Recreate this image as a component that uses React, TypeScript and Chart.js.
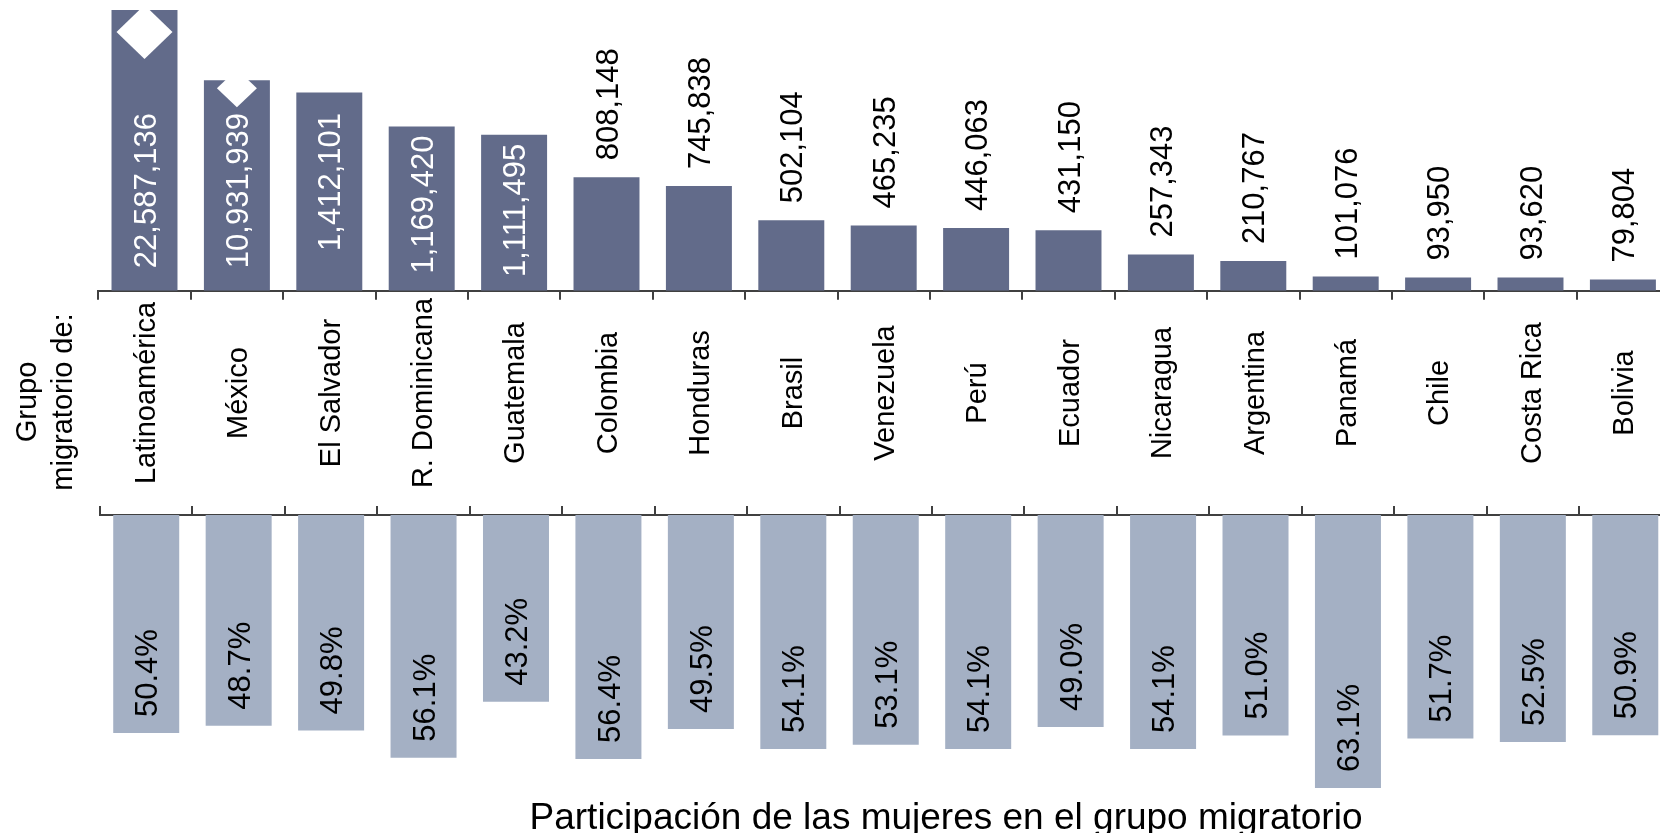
import React, { useEffect, useRef } from "react";
import { Chart, registerables } from "chart.js";

Chart.register(...registerables);

const categories = [
  "Latinoamérica", "México", "El Salvador", "R. Dominicana", "Guatemala", "Colombia",
  "Honduras", "Brasil", "Venezuela", "Perú", "Ecuador", "Nicaragua", "Argentina",
  "Panamá", "Chile", "Costa Rica", "Bolivia",
];
const migrants = [
  22587136, 10931939, 1412101, 1169420, 1111495, 808148, 745838, 502104, 465235,
  446063, 431150, 257343, 210767, 101076, 93950, 93620, 79804,
];
const womenShare = [
  50.4, 48.7, 49.8, 56.1, 43.2, 56.4, 49.5, 54.1, 53.1, 54.1, 49.0, 54.1, 51.0,
  63.1, 51.7, 52.5, 50.9,
];
// value at which a bar is cut by the axis break (null = no break)
const axisBreaks: (number | null)[] = [
  2000000, 1500000, null, null, null, null, null, null, null, null, null, null, null,
  null, null, null, null,
];
const topAxisMax = 2000000;
const bottomAxisMax = 70;
const sideLabel = ["Grupo", "migratorio de:"];
const bottomTitle = "Participación de las mujeres en el grupo migratorio";

const FONT = "'Liberation Sans', Arial, sans-serif";
const DARK = "#626b8a";
const LIGHT = "#a4b0c4";
const AXIS = "#404040";

const CW = 1680;
const CH = 833;

function rotText(ctx: CanvasRenderingContext2D, text: string, x: number, y: number, align: CanvasTextAlign, fs: number) {
  ctx.save();
  ctx.translate(x + 0.358 * fs, y);
  ctx.rotate(-Math.PI / 2);
  ctx.textAlign = align;
  ctx.textBaseline = "alphabetic";
  ctx.fillText(text, 0, 0);
  ctx.restore();
}

const breakMarkers = [
  { dy: 22, hw: 28, hh: 27 },
  { dy: 8, hw: 20, hh: 19 },
];

const topPlugin = {
  id: "topLabels",
  afterDatasetsDraw(chart: any) {
    const ctx: CanvasRenderingContext2D = chart.ctx;
    const meta = chart.getDatasetMeta(0);
    const area = chart.chartArea;
    // break markers
    let k = 0;
    meta.data.forEach((bar: any, i: number) => {
      if (axisBreaks[i] == null) return;
      const m = breakMarkers[k++] || breakMarkers[breakMarkers.length - 1];
      const cy = bar.y + m.dy;
      ctx.save();
      ctx.fillStyle = "#ffffff";
      ctx.beginPath();
      ctx.moveTo(bar.x, cy - m.hh);
      ctx.lineTo(bar.x + m.hw, cy);
      ctx.lineTo(bar.x, cy + m.hh);
      ctx.lineTo(bar.x - m.hw, cy);
      ctx.closePath();
      ctx.fill();
      ctx.restore();
    });
    // value labels
    const fs = 31;
    ctx.save();
    ctx.font = `${fs}px ${FONT}`;
    meta.data.forEach((bar: any, i: number) => {
      const text = migrants[i].toLocaleString("en-US");
      const w = ctx.measureText(text).width;
      const h = bar.base - bar.y;
      if (w + 16 < h) {
        ctx.fillStyle = "#ffffff";
        const top = Math.max(bar.y + 9, area.top + 103);
        rotText(ctx, text, bar.x, top, "right", fs);
      } else {
        ctx.fillStyle = "#000000";
        rotText(ctx, text, bar.x, bar.y - 17, "left", fs);
      }
    });
    // category labels
    const cfs = 29;
    ctx.font = `${cfs}px ${FONT}`;
    ctx.fillStyle = "#000000";
    const xs = chart.scales.x;
    categories.forEach((c, i) => {
      rotText(ctx, c, xs.getPixelForValue(i), 393, "center", cfs);
    });
    // side label
    ctx.save();
    ctx.translate(36, 402);
    ctx.rotate(-Math.PI / 2);
    ctx.textAlign = "center";
    ctx.textBaseline = "alphabetic";
    ctx.fillText(sideLabel[0], 0, 0);
    ctx.fillText(sideLabel[1], 0, 35.5);
    ctx.restore();
    ctx.restore();
  },
};

const bottomPlugin = {
  id: "bottomLabels",
  afterDatasetsDraw(chart: any) {
    const ctx: CanvasRenderingContext2D = chart.ctx;
    const meta = chart.getDatasetMeta(0);
    const fs = 31;
    ctx.save();
    ctx.font = `${fs}px ${FONT}`;
    ctx.fillStyle = "#000000";
    meta.data.forEach((bar: any, i: number) => {
      const text = womenShare[i].toFixed(1) + "%";
      rotText(ctx, text, bar.x, bar.y - 16, "left", fs);
    });
    ctx.font = `37px ${FONT}`;
    ctx.textAlign = "center";
    ctx.textBaseline = "alphabetic";
    ctx.fillText(bottomTitle, 946, 829);
    ctx.restore();
  },
};

function xAxis(position: "top" | "bottom") {
  return {
    type: "category" as const,
    position,
    grid: {
      display: true,
      offset: true,
      drawOnChartArea: false,
      drawTicks: true,
      tickLength: 9,
      color: AXIS,
      lineWidth: 2,
    },
    border: { display: true, color: AXIS, width: 2 },
    ticks: { display: false },
    afterFit: (s: any) => {
      s.height = 9;
    },
  };
}

export default function App() {
  const topRef = useRef<HTMLCanvasElement>(null);
  const botRef = useRef<HTMLCanvasElement>(null);

  useEffect(() => {
    const shown = migrants.map((v, i) => (axisBreaks[i] != null ? (axisBreaks[i] as number) : v));
    const top = new Chart(topRef.current!, {
      type: "bar",
      data: {
        labels: categories,
        datasets: [
          {
            data: shown,
            backgroundColor: DARK,
            borderWidth: 0,
            barPercentage: 0.714,
            categoryPercentage: 1,
          },
        ],
      },
      options: {
        responsive: false,
        animation: false,
        devicePixelRatio: 1,
        layout: { padding: { left: 98.3, right: CW - 1669.1, top: 10, bottom: CH - 290.7 - 9 } },
        plugins: { legend: { display: false }, tooltip: { enabled: false }, title: { display: false } },
        scales: {
          x: xAxis("bottom") as any,
          y: { display: false, min: 0, max: topAxisMax },
        },
      },
      plugins: [topPlugin],
    });
    const bot = new Chart(botRef.current!, {
      type: "bar",
      data: {
        labels: categories,
        datasets: [
          {
            data: womenShare,
            backgroundColor: LIGHT,
            borderWidth: 0,
            barPercentage: 0.714,
            categoryPercentage: 1,
          },
        ],
      },
      options: {
        responsive: false,
        animation: false,
        devicePixelRatio: 1,
        layout: { padding: { left: 100, right: CW - 1671.5, top: 506, bottom: CH - 515 - 4.325 * bottomAxisMax } },
        plugins: { legend: { display: false }, tooltip: { enabled: false }, title: { display: false } },
        scales: {
          x: xAxis("top") as any,
          y: { display: false, min: 0, max: bottomAxisMax, reverse: true },
        },
      },
      plugins: [bottomPlugin],
    });
    return () => {
      top.destroy();
      bot.destroy();
    };
  }, []);

  const cstyle: React.CSSProperties = { position: "absolute", left: 0, top: 0, width: CW, height: CH };
  return (
    <div style={{ position: "fixed", left: 0, top: 0, width: 1660, height: 833, overflow: "hidden", background: "#ffffff" }}>
      <canvas ref={topRef} width={CW} height={CH} style={cstyle} />
      <canvas ref={botRef} width={CW} height={CH} style={cstyle} />
    </div>
  );
}
